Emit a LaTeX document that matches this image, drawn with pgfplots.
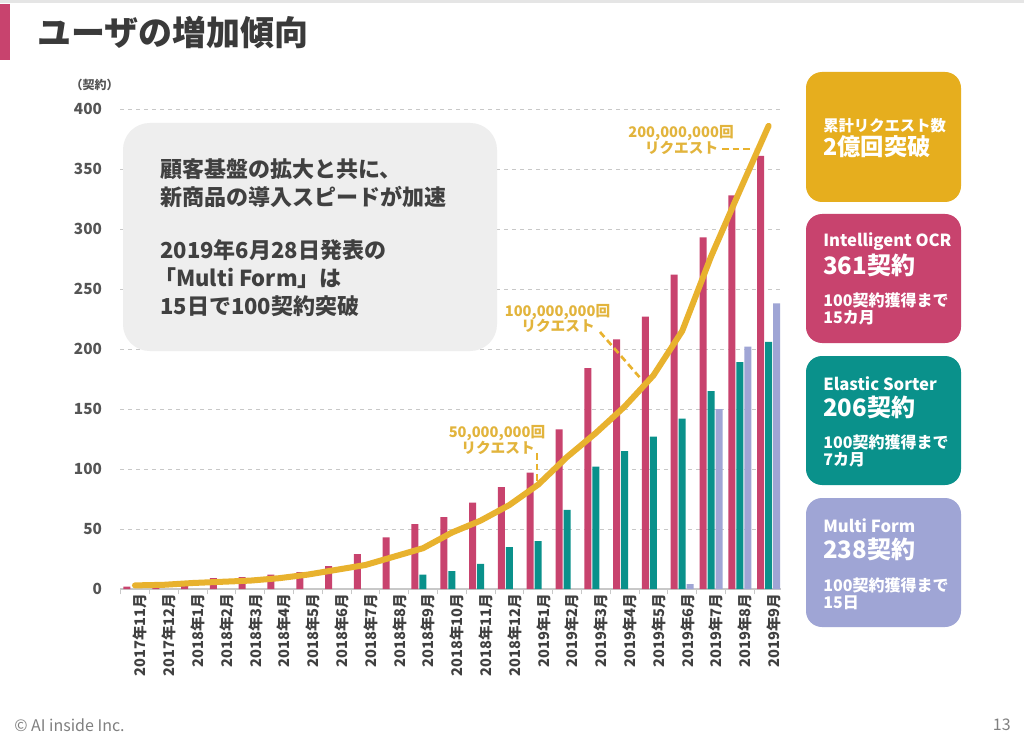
\documentclass[border=0pt]{standalone}
\usepackage{fontspec}
\setmainfont{Noto Sans CJK JP}
\usepackage{pgfplots}
\pgfplotsset{compat=1.18}
\definecolor{pinkc}{HTML}{C8436E}
\definecolor{tealc}{HTML}{0A918B}
\definecolor{lavc}{HTML}{9FA5D5}
\definecolor{goldbox}{HTML}{E6AE1E}
\definecolor{goldline}{HTML}{E8B22E}
\definecolor{goldtext}{HTML}{E2B43C}
\definecolor{titlegray}{HTML}{3A3A3A}
\definecolor{textgray}{HTML}{404040}
\definecolor{tickgray}{HTML}{555555}
\definecolor{gridc}{HTML}{C8C8C8}
\definecolor{boxgray}{HTML}{EEEEEE}
\definecolor{footgray}{HTML}{808080}
\begin{document}
\begin{tikzpicture}
\begin{scope}[x=0.75pt,y=-0.75pt]
\path[use as bounding box, fill=white] (0,0) rectangle (1024,745);
\fill[gray!20] (0,0) rectangle (1024,3);
\fill[pinkc] (0,4) rectangle (10,60);
\node[anchor=west, text=titlegray, font=\bfseries\fontsize{25.5}{30}\selectfont, inner sep=0] at (37,32.5) {ユーザの増加傾向};
\node[anchor=east, text=tickgray, font=\bfseries\fontsize{9}{11}\selectfont, inner sep=0] at (119,85) {（契約）};
\end{scope}
\begin{axis}[
  at={(90pt,-441.75pt)}, anchor=south west,
  scale only axis, width=495.75pt, height=360pt,
  xmin=-0.52, xmax=22.43, ymin=0, ymax=400,
  axis line style={draw=none},
  ytick={0,50,...,400},
  yticklabels={0,50,100,150,200,250,300,350,400},
  ymajorgrids, grid style={dashed, gridc, line width=0.6pt},
  major tick length=0pt,
  xtick={0,...,22},
  xticklabels={2017年11月,2017年12月,2018年1月,2018年2月,2018年3月,2018年4月,2018年5月,2018年6月,2018年7月,2018年8月,2018年9月,2018年10月,2018年11月,2018年12月,2019年1月,2019年2月,2019年3月,2019年4月,2019年5月,2019年6月,2019年7月,2019年8月,2019年9月},
  minor xtick={-0.5,0.5,...,22.5},
  minor tick length=4pt,
  minor tick style={gridc, line width=0.6pt},
  tick pos=left, tick align=outside,
  x tick label style={rotate=90, anchor=east, font=\bfseries\fontsize{11}{12}\selectfont, text=textgray, yshift=-4pt},
  y tick label style={font=\bfseries\fontsize{11.5}{13}\selectfont, text=tickgray, xshift=-10pt},
  clip=false,
]
\draw[gridc, line width=0.8pt] (axis cs:-0.52,0) -- (axis cs:22.43,0);
\addplot[ybar, bar width=5.25pt, bar shift=-6pt, fill=pinkc, draw=none] coordinates {
(0,2) (1,3) (2,6) (3,9) (4,10) (5,12) (6,14) (7,19) (8,29) (9,43) (10,54) (11,60) (12,72) (13,85) (14,97) (15,133) (16,184) (17,208) (18,227) (19,262) (20,293) (21,328) (22,361)};
\addplot[ybar, bar width=5.25pt, bar shift=0pt, fill=tealc, draw=none] coordinates {
(10,12) (11,15) (12,21) (13,35) (14,40) (15,66) (16,102) (17,115) (18,127) (19,142) (20,165) (21,189) (22,206)};
\addplot[ybar, bar width=5.25pt, bar shift=6pt, fill=lavc, draw=none] coordinates {
(19,4) (20,150) (21,202) (22,238)};
\addplot[goldline, line width=4.5pt, line join=round, line cap=round, mark=none] coordinates {
(0,3) (1,3.5) (2,5) (3,6) (4,7) (5,9) (6,12) (7,16) (8,20) (9,27) (10,34) (11,47) (12,57) (13,70) (14,87) (15,110) (16,130) (17,152) (18,178) (19,215) (20,277) (21,332) (22,386)};
\end{axis}
\begin{scope}[x=0.75pt,y=-0.75pt]
% annotations
\draw[goldline, line width=2pt, dash pattern=on 5pt off 3pt] (537,453) -- (537,482);
\draw[goldline, line width=2pt, dash pattern=on 5pt off 3pt] (600,332) -- (642,380);
\draw[goldline, line width=2pt, dash pattern=on 5pt off 3pt] (722,149) -- (754,149);
\begin{scope}[every node/.style={text=goldtext, font=\bfseries\fontsize{11}{12}\selectfont, inner sep=0}]
\node at (497,433) {50,000,000回};
\node at (498,447.5) {リクエスト};
\node at (557.5,312) {100,000,000回};
\node at (558,326) {リクエスト};
\node at (681,133) {200,000,000回};
\node at (681.5,148) {リクエスト};
\end{scope}
% callout
\fill[boxgray, rounded corners=20pt] (123,123) rectangle (497,351);
\begin{scope}[every node/.style={anchor=west, text=textgray, font=\bfseries\fontsize{16.5}{20}\selectfont, inner sep=0}]
\node at (160,169) {顧客基盤の拡大と共に、};
\node at (160,197) {新商品の導入スピードが加速};
\node at (160,250) {2019年6月28日発表の};
\node at (154,278) {「Multi Form」は};
\node at (160,306) {15日で100契約突破};
\end{scope}
% right boxes
\fill[goldbox, rounded corners=12pt] (806,72) rectangle (961,202);
\fill[pinkc, rounded corners=12pt] (806,214) rectangle (961,343);
\fill[tealc, rounded corners=12pt] (806,356) rectangle (961,485);
\fill[lavc, rounded corners=12pt] (806,498) rectangle (961,627);
\begin{scope}[every node/.style={anchor=west, text=white, inner sep=0}]
\node[font=\bfseries\fontsize{11.5}{13}\selectfont] at (823,126) {累計リクエスト数};
\node[font=\bfseries\fontsize{17.5}{20}\selectfont] at (823,147) {2億回突破};
\node[font=\bfseries\fontsize{12.5}{14}\selectfont] at (823,242) {Intelligent OCR};
\node[font=\bfseries\fontsize{18}{20}\selectfont] at (823,265) {361契約};
\node[font=\bfseries\fontsize{12}{14}\selectfont] at (823,300) {100契約獲得まで};
\node[font=\bfseries\fontsize{12}{14}\selectfont] at (823,318) {15カ月};
\node[font=\bfseries\fontsize{12.5}{14}\selectfont] at (823,384) {Elastic Sorter};
\node[font=\bfseries\fontsize{18}{20}\selectfont] at (823,407) {206契約};
\node[font=\bfseries\fontsize{12}{14}\selectfont] at (823,442) {100契約獲得まで};
\node[font=\bfseries\fontsize{12}{14}\selectfont] at (823,460) {7カ月};
\node[font=\bfseries\fontsize{12.5}{14}\selectfont] at (823,526) {Multi Form};
\node[font=\bfseries\fontsize{18}{20}\selectfont] at (823,549) {238契約};
\node[font=\bfseries\fontsize{12}{14}\selectfont] at (823,585) {100契約獲得まで};
\node[font=\bfseries\fontsize{12}{14}\selectfont] at (823,603) {15日};
\end{scope}
% footer
\node[anchor=west, text=footgray, font=\fontsize{12}{13}\selectfont, inner sep=0] at (14,725) {© AI inside Inc.};
\node[anchor=east, text=footgray, font=\fontsize{12}{13}\selectfont, inner sep=0] at (1011,725) {13};
\end{scope}
\end{tikzpicture}
\end{document}
